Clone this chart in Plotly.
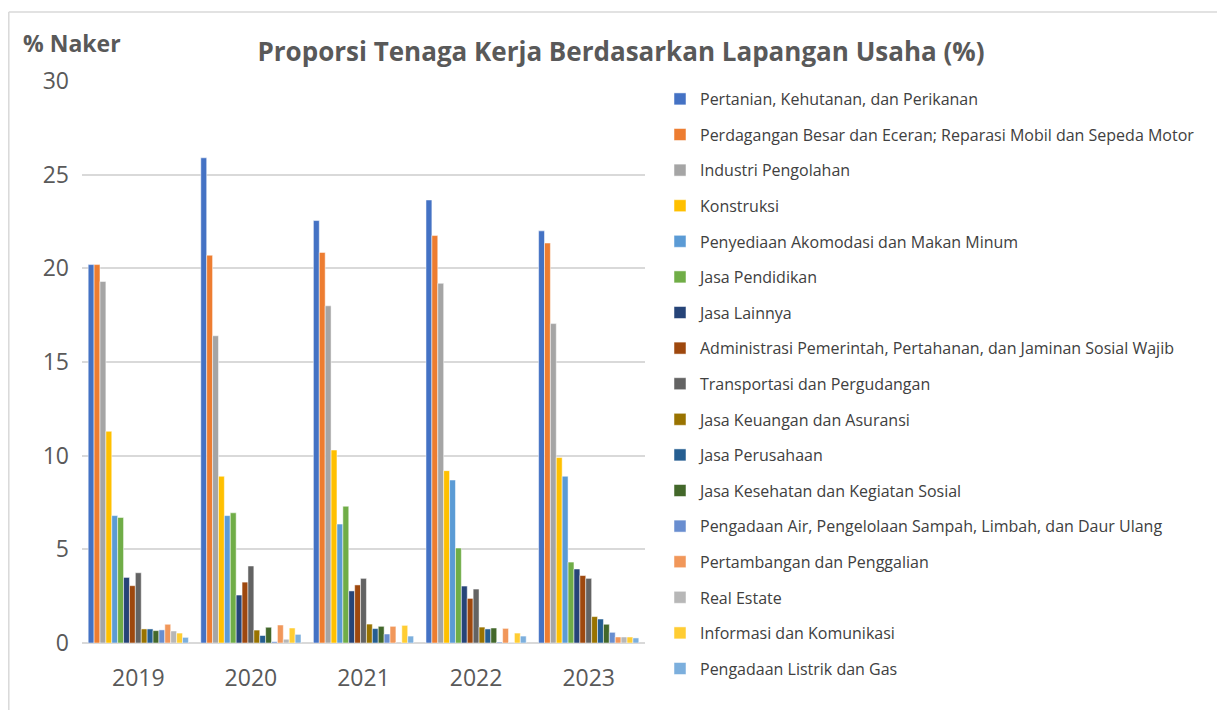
import plotly.graph_objects as go

years = ["2019", "2020", "2021", "2022", "2023"]

series_names = [
    "Pertanian, Kehutanan, dan Perikanan",
    "Perdagangan Besar dan Eceran; Reparasi Mobil dan Sepeda Motor",
    "Industri Pengolahan",
    "Konstruksi",
    "Penyediaan Akomodasi dan Makan Minum",
    "Jasa Pendidikan",
    "Jasa Lainnya",
    "Administrasi Pemerintah, Pertahanan, dan Jaminan Sosial Wajib",
    "Transportasi dan Pergudangan",
    "Jasa Keuangan dan Asuransi",
    "Jasa Perusahaan",
    "Jasa Kesehatan dan Kegiatan Sosial",
    "Pengadaan Air, Pengelolaan Sampah, Limbah, dan Daur Ulang",
    "Pertambangan dan Penggalian",
    "Real Estate",
    "Informasi dan Komunikasi",
    "Pengadaan Listrik dan Gas",
]

pertanian = [20.2, 25.9, 22.55, 23.65, 22.0]
perdagangan = [20.2, 20.7, 20.85, 21.75, 21.35]
industri = [19.3, 16.4, 18.0, 19.2, 17.05]
konstruksi = [11.3, 8.9, 10.3, 9.2, 9.9]
akomodasi = [6.8, 6.8, 6.35, 8.7, 8.9]
pendidikan = [6.7, 6.95, 7.3, 5.07, 4.32]
jasa_lainnya = [3.5, 2.56, 2.78, 3.04, 3.95]
administrasi = [3.06, 3.25, 3.1, 2.38, 3.6]
transportasi = [3.75, 4.11, 3.45, 2.88, 3.45]
keuangan = [0.75, 0.69, 1.01, 0.85, 1.41]
perusahaan = [0.75, 0.4, 0.77, 0.75, 1.28]
kesehatan = [0.66, 0.84, 0.89, 0.8, 1.0]
air = [0.7, 0.07, 0.48, 0.05, 0.57]
pertambangan = [1.0, 0.96, 0.89, 0.78, 0.32]
real_estate = [0.64, 0.2, 0.05, 0.02, 0.32]
informasi = [0.53, 0.8, 0.94, 0.53, 0.32]
listrik = [0.3, 0.46, 0.37, 0.37, 0.27]

series_values = [pertanian, perdagangan, industri, konstruksi, akomodasi, pendidikan,
                 jasa_lainnya, administrasi, transportasi, keuangan, perusahaan,
                 kesehatan, air, pertambangan, real_estate, informasi, listrik]

colors = ["#4472C4", "#ED7D31", "#A5A5A5", "#FFC000", "#5B9BD5", "#70AD47",
          "#264478", "#9E480E", "#636363", "#997300", "#255E91", "#43682B",
          "#698ED0", "#F1975A", "#B7B7B7", "#FFCD33", "#7CAFDD"]

y_ticks = [0, 5, 10, 15, 20, 25, 30]

# page body has an 8px default margin; work in figure coords
OFF = 8
W, H = 1225 - OFF, 710 - OFF
L, R, T, B = 82 - OFF, 645 - OFF, 81 - OFF, 643 - OFF

fig = go.Figure()
for i, (name, vals) in enumerate(zip(series_names, series_values)):
    fig.add_trace(go.Bar(
        x=years, y=vals, name=name, legendgroup=f"g{i}",
        marker=dict(color=colors[i], line=dict(width=0.5, color="white")),
    ))

pw = R - L
ph = B - T
def px_to_paper_x(px):
    return (px - OFF - L) / pw
def px_to_paper_y(py):
    return (B - (py - OFF)) / ph

fig.update_layout(
    width=W, height=H,
    margin=dict(l=L, r=W - R, t=T, b=H - B, autoexpand=False),
    paper_bgcolor="white", plot_bgcolor="white",
    barmode="group", bargap=0.11, bargroupgap=0,
    font=dict(family="Open Sans, Calibri, sans-serif", color="#595959"),
    title=dict(
        text="<b>Proporsi Tenaga Kerja Berdasarkan Lapangan Usaha (%)</b>",
        font=dict(size=26, color="#595959"),
        x=(621 - OFF) / W, xref="container", xanchor="center",
        y=1 - (52 - OFF) / H, yref="container", yanchor="middle",
    ),
    xaxis=dict(
        showgrid=False, showline=False, ticks="",
        tickfont=dict(size=23, color="#595959"),
        ticklabelstandoff=19,
    ),
    yaxis=dict(
        range=[0, 30], tickvals=y_ticks, showgrid=True, gridcolor="#D9D9D9",
        gridwidth=1.5, zeroline=True, zerolinecolor="#D9D9D9", zerolinewidth=1.5,
        tickfont=dict(size=23, color="#595959"), ticks="", showline=False,
        ticklabelstandoff=12,
    ),
    legend=dict(
        xref="container", yref="container",
        x=(660 - OFF) / W, y=1 - (82 - OFF) / H, xanchor="left", yanchor="top",
        font=dict(size=16, color="#404040"),
        tracegroupgap=11.8, itemwidth=30, maxheight=700,
        bgcolor="rgba(0,0,0,0)",
    ),
    showlegend=True,
)

fig.add_annotation(
    text="<b>% Naker</b>", xref="paper", yref="paper",
    x=px_to_paper_x(21), y=px_to_paper_y(43), xanchor="left", yanchor="middle",
    showarrow=False, font=dict(size=23, color="#595959"),
)

# chart-area border: only top and left edges are visible in the reference
fig.add_shape(
    type="line", xref="paper", yref="paper",
    x0=px_to_paper_x(8.8), x1=px_to_paper_x(1225),
    y0=px_to_paper_y(12), y1=px_to_paper_y(12),
    line=dict(color="#D9D9D9", width=1.5), layer="below",
)
fig.add_shape(
    type="line", xref="paper", yref="paper",
    x0=px_to_paper_x(8.8), x1=px_to_paper_x(8.8),
    y0=px_to_paper_y(12), y1=px_to_paper_y(712),
    line=dict(color="#D9D9D9", width=1.5), layer="below",
)

fig.write_html("out.html")
